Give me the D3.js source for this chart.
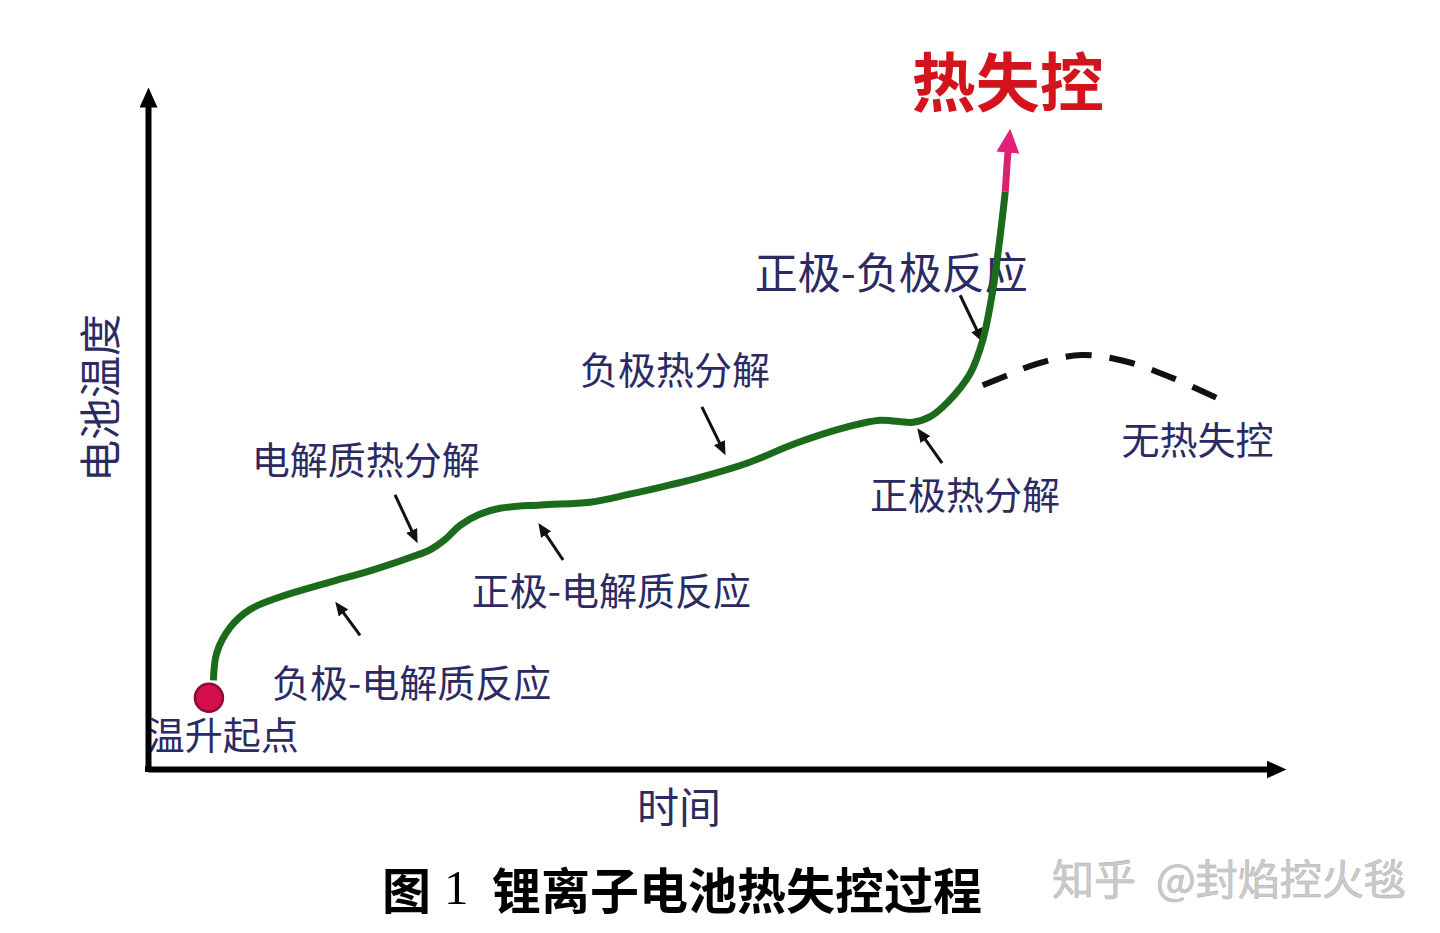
<!DOCTYPE html>
<html>
<head>
<meta charset="utf-8">
<script src="https://cdn.jsdelivr.net/npm/d3@7"></script>
<style>
  html, body { margin: 0; padding: 0; background: #fff; }
  svg { display: block; }
</style>
</head>
<body>
<div id="chart"></div>
<script>
const kWidth = 1440;
const kHeight = 933;
const kFont = "'Noto Sans CJK SC', 'Noto Sans', sans-serif";
const kInk = "#2b2a63";

// main temperature curve, time (0-100) vs battery temperature (0-100)
const curveTime = [5.8, 6.1, 7.3, 9.0, 11.7, 15.9, 19.9, 23.8, 25.0, 26.3, 27.7, 29.4, 31.2, 34.8, 39.2, 42.7, 48.7, 53.1, 57.5, 62.0, 64.9, 67.8, 69.3, 70.9, 72.9, 74.0, 74.9, 75.5, 76.0];
const curveTemp = [13.2, 17.3, 21.1, 23.7, 25.6, 27.7, 29.6, 31.8, 32.6, 34.1, 36.3, 37.9, 38.8, 39.3, 39.7, 40.9, 43.3, 45.5, 48.5, 50.9, 51.9, 51.6, 52.4, 54.6, 58.9, 63.8, 71.3, 78.7, 85.9];

// runaway tip (pink, with arrow)
const runawayTime = [76.0, 76.2, 76.3];
const runawayTemp = [85.9, 91.0, 92.9];

// dashed branch: no thermal runaway
const calmTime = [74.0, 76.2, 78.8, 82.8, 86.8, 90.8, 94.9];
const calmTemp = [57.1, 58.6, 60.3, 61.6, 60.6, 58.2, 55.1];

const startTime = 5.4;
const startTemp = 10.6;

// stage labels and the points they sit at
const stageLabels = ["温升起点", "负极-电解质反应", "电解质热分解", "正极-电解质反应", "负极热分解", "正极热分解", "正极-负极反应", "无热失控"];
const labelTime = [-0.1, 11.0, 9.2, 28.7, 38.3, 64.0, 53.8, 86.3];
const labelTemp = [5.4, 13.2, 46.3, 26.9, 59.7, 41.1, 74.3, 49.4];
const labelSize = [38, 38, 38, 38, 38, 38, 43, 38];

// pointer arrows: tail -> tip
const arrowTailTime = [18.8, 21.9, 36.8, 49.1, 70.4, 72.0];
const arrowTailTemp = [19.9, 40.8, 31.1, 53.9, 45.5, 70.5];
const arrowTipTime = [16.6, 23.9, 34.6, 51.2, 68.2, 74.0];
const arrowTipTemp = [24.9, 33.6, 36.6, 46.7, 50.7, 63.5];

const runawayLabel = "热失控";
const xTitle = "时间";
const yTitle = "电池温度";
const captionLead = "图";
const captionNum = "1";
const captionText = "锂离子电池热失控过程";
const watermarkSite = "知乎";
const watermarkUser = "@封焰控火毯";

const svg = d3.select("#chart")
  .append("svg")
  .attr("width", kWidth)
  .attr("height", kHeight)
  .style("background", "#fff");

const x = d3.scaleLinear().domain([0, 100]).range([148, 1276]);
const y = d3.scaleLinear().domain([0, 100]).range([769, 97]);

const defs = svg.append("defs");

function addMarker(id, w, h, refX, color)
{
  defs.append("marker")
    .attr("id", id)
    .attr("markerUnits", "userSpaceOnUse")
    .attr("viewBox", `0 0 ${w} ${h}`)
    .attr("markerWidth", w)
    .attr("markerHeight", h)
    .attr("refX", refX)
    .attr("refY", h / 2)
    .attr("orient", "auto")
    .append("path")
    .attr("d", `M0,0L${w},${h / 2}L0,${h}Z`)
    .attr("fill", color);
}

addMarker("axisHead", 20, 18, 10, "#000");
addMarker("runawayHead", 24, 23, 8, "#e2207a");
addMarker("pointerHead", 14, 12, 4, "#111");

// stage labels
svg.append("g")
  .selectAll("text")
  .data(stageLabels)
  .join("text")
  .attr("x", (d, i) => x(labelTime[i]))
  .attr("y", (d, i) => y(labelTemp[i]))
  .attr("dominant-baseline", "central")
  .attr("font-family", kFont)
  .attr("font-size", (d, i) => labelSize[i])
  .attr("fill", kInk)
  .text(d => d);

// pointer arrows, shortened so the head tip lands on the point
svg.append("g")
  .selectAll("line")
  .data(arrowTipTime)
  .join("line")
  .each(function(d, i) {
    const x1 = x(arrowTailTime[i]), y1 = y(arrowTailTemp[i]);
    const x2 = x(arrowTipTime[i]), y2 = y(arrowTipTemp[i]);
    const len = Math.hypot(x2 - x1, y2 - y1);
    const k = (len - 10) / len;
    d3.select(this)
      .attr("x1", x1).attr("y1", y1)
      .attr("x2", x1 + (x2 - x1) * k)
      .attr("y2", y1 + (y2 - y1) * k);
  })
  .attr("stroke", "#111")
  .attr("stroke-width", 3)
  .attr("marker-end", "url(#pointerHead)");

const line = d3.line()
  .x(d => x(d[0]))
  .y(d => y(d[1]))
  .curve(d3.curveCatmullRom.alpha(0.5));

// dashed branch
svg.append("path")
  .datum(calmTime.map((t, i) => [t, calmTemp[i]]))
  .attr("d", line)
  .attr("fill", "none")
  .attr("stroke", "#111")
  .attr("stroke-width", 6)
  .attr("stroke-dasharray", "26,18");

// main curve
svg.append("path")
  .datum(curveTime.map((t, i) => [t, curveTemp[i]]))
  .attr("d", line)
  .attr("fill", "none")
  .attr("stroke", "#1c6b1c")
  .attr("stroke-width", 7)
  .attr("stroke-linejoin", "round");

svg.append("path")
  .datum(runawayTime.map((t, i) => [t, runawayTemp[i]]))
  .attr("d", line)
  .attr("fill", "none")
  .attr("stroke", "#d8226f")
  .attr("stroke-width", 7)
  .attr("marker-end", "url(#runawayHead)");

// start point
svg.append("circle")
  .attr("cx", x(startTime))
  .attr("cy", y(startTemp))
  .attr("r", 14)
  .attr("fill", "#d3104e")
  .attr("stroke", "#8e0a36")
  .attr("stroke-width", 2.5);

// axes
svg.append("g")
  .attr("transform", `translate(0,${y(0)})`)
  .call(d3.axisBottom(x).tickValues([]).tickSizeOuter(0))
  .call(g => g.select(".domain")
    .attr("stroke", "#000")
    .attr("stroke-width", 6)
    .attr("marker-end", "url(#axisHead)"));

svg.append("g")
  .attr("transform", `translate(${x(0)},0)`)
  .call(d3.axisLeft(y).tickValues([]).tickSizeOuter(0))
  .call(g => g.select(".domain")
    .attr("stroke", "#000")
    .attr("stroke-width", 6)
    .attr("marker-end", "url(#axisHead)"));

// corner fill
svg.append("rect")
  .attr("x", x(0) - 3)
  .attr("y", y(0) - 3)
  .attr("width", 6)
  .attr("height", 6)
  .attr("fill", "#000");

// axis titles
svg.append("text")
  .attr("x", 679)
  .attr("y", 804)
  .attr("text-anchor", "middle")
  .attr("dominant-baseline", "central")
  .attr("font-family", kFont)
  .attr("font-size", 42)
  .attr("fill", kInk)
  .text(xTitle);

svg.append("text")
  .attr("transform", "translate(97,398) rotate(-90)")
  .attr("text-anchor", "middle")
  .attr("dominant-baseline", "central")
  .attr("font-family", kFont)
  .attr("font-size", 42)
  .attr("fill", kInk)
  .text(yTitle);

// runaway title
svg.append("text")
  .attr("x", x(67.7))
  .attr("y", y(102.8))
  .attr("dominant-baseline", "central")
  .attr("font-family", kFont)
  .attr("font-weight", "bold")
  .attr("font-size", 64)
  .attr("fill", "#d3141d")
  .text(runawayLabel);

// caption
const caption = svg.append("text")
  .attr("y", 887)
  .attr("dominant-baseline", "central")
  .attr("font-family", kFont)
  .attr("font-weight", "bold")
  .attr("font-size", 49)
  .attr("fill", "#000");
caption.append("tspan").attr("x", 382).text(captionLead);
caption.append("tspan").attr("x", 444).attr("font-family", "'Liberation Serif', serif").attr("font-weight", "normal").text(captionNum);
caption.append("tspan").attr("x", 492).text(captionText);

// watermark
const mark = svg.append("text")
  .attr("y", 876)
  .attr("dominant-baseline", "central")
  .attr("font-family", kFont)
  .attr("font-size", 42)
  .attr("fill", "#cbcbcb")
  .attr("stroke", "#b4b4b4")
  .attr("stroke-width", 0.6);
mark.append("tspan").attr("x", 1052).text(watermarkSite);
mark.append("tspan").attr("x", 1156).text(watermarkUser);
</script>
</body>
</html>
